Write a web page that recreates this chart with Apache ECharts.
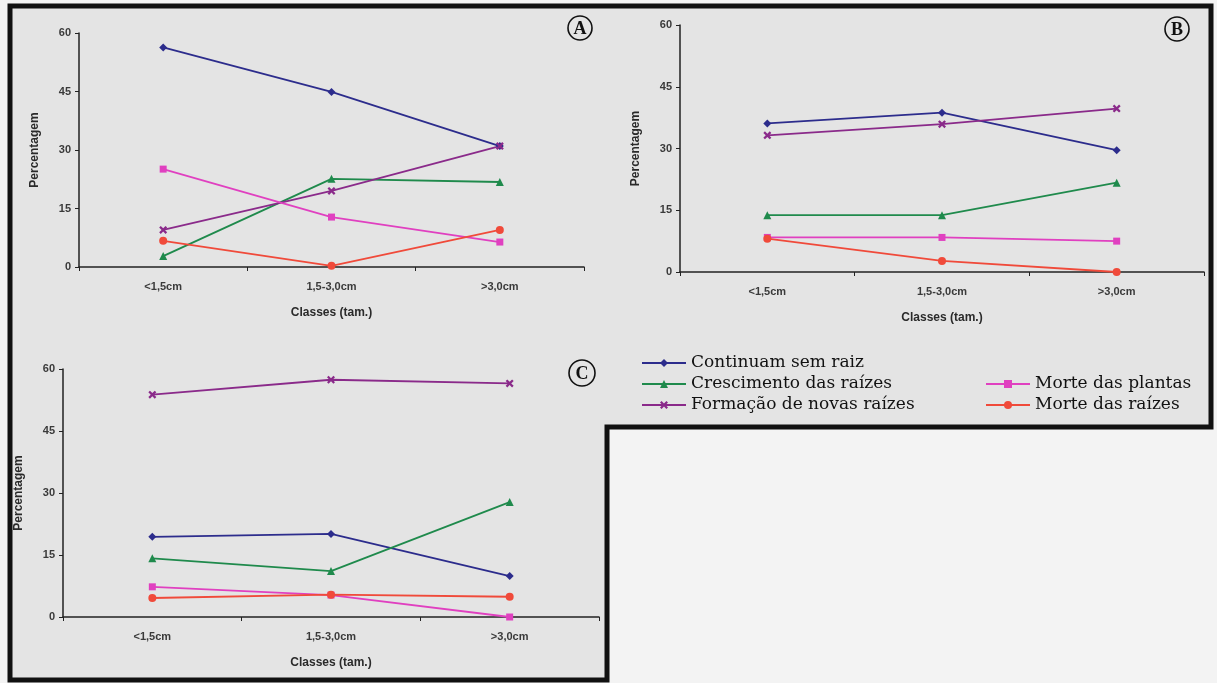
<!DOCTYPE html>
<html>
<head>
<meta charset="utf-8">
<script src="https://cdn.jsdelivr.net/npm/echarts@6/dist/echarts.min.js"></script>
<style>
  html, body { margin: 0; padding: 0; background: #f3f3f3; }
  #chart { width: 1217px; height: 683px; }
</style>
</head>
<body>
<div id="chart"></div>
<script>
// Size classes on the x axis
const categories = ['<1,5cm', '1,5-3,0cm', '>3,0cm'];
const yTicks = { min: 0, max: 60, interval: 15 };

// Response categories (legend order)
const seriesNames = [
  'Continuam sem raiz',
  'Crescimento das raízes',
  'Formação de novas raízes',
  'Morte das plantas',
  'Morte das raízes'
];

// Panel A (%)
const aContinuam     = [56.3, 44.9, 31.0];
const aCrescimento   = [2.8, 22.6, 21.8];
const aFormacao      = [9.5, 19.5, 31.0];
const aMortePlantas  = [25.1, 12.8, 6.4];
const aMorteRaizes   = [6.7, 0.3, 9.5];

// Panel B (%)
const bContinuam     = [36.1, 38.7, 29.6];
const bCrescimento   = [13.8, 13.8, 21.7];
const bFormacao      = [33.2, 35.9, 39.7];
const bMortePlantas  = [8.4, 8.4, 7.5];
const bMorteRaizes   = [8.1, 2.7, 0];

// Panel C (%)
const cContinuam     = [19.4, 20.1, 9.9];
const cCrescimento   = [14.2, 11.1, 27.8];
const cFormacao      = [53.8, 57.4, 56.5];
const cMortePlantas  = [7.3, 5.3, 0];
const cMorteRaizes   = [4.6, 5.4, 4.9];

const panelData = [
  [aContinuam, aCrescimento, aFormacao, aMortePlantas, aMorteRaizes],
  [bContinuam, bCrescimento, bFormacao, bMortePlantas, bMorteRaizes],
  [cContinuam, cCrescimento, cFormacao, cMortePlantas, cMorteRaizes]
];

const colors = ['#2c2c8c', '#1f8a4c', '#8a2a8a', '#e040c0', '#f04a3a'];
const crossPath = 'path://M0,2L2,0L5,3L8,0L10,2L7,5L10,8L8,10L5,7L2,10L0,8L3,5Z';
const symbols = ['diamond', 'triangle', crossPath, 'rect', 'circle'];
const symbolSizes = [8, 8, 8, 7, 8];

const grids = [
  { left: 79, top: 33, width: 505, height: 234 },
  { left: 680, top: 25, width: 524, height: 247 },
  { left: 63, top: 369, width: 536, height: 248 }
];

const axisColor = '#222';
const tickFont = { fontFamily: 'Liberation Sans', fontSize: 11, fontWeight: 'bold', color: '#3a3a3a' };
const nameFont = { fontFamily: 'Liberation Sans', fontSize: 12, fontWeight: 'bold', color: '#2a2a2a' };

const xAxes = grids.map((g, i) => ({
  type: 'category',
  gridIndex: i,
  data: categories,
  boundaryGap: true,
  name: 'Classes (tam.)',
  nameLocation: 'middle',
  nameGap: 40,
  nameTextStyle: nameFont,
  axisLine: { lineStyle: { color: axisColor, width: 1.5 } },
  axisTick: { show: true, length: 4, lineStyle: { color: axisColor } },
  axisLabel: Object.assign({ margin: 14 }, tickFont),
  splitLine: { show: false }
}));

const yAxes = grids.map((g, i) => ({
  type: 'value',
  gridIndex: i,
  min: yTicks.min,
  max: yTicks.max,
  interval: yTicks.interval,
  name: 'Percentagem',
  nameLocation: 'middle',
  nameGap: 38,
  nameTextStyle: nameFont,
  axisLine: { show: true, lineStyle: { color: axisColor, width: 1.5 } },
  axisTick: { show: true, length: 4, lineStyle: { color: axisColor } },
  axisLabel: Object.assign({ margin: 8 }, tickFont),
  splitLine: { show: false }
}));

const series = [];
panelData.forEach((panel, p) => {
  panel.forEach((values, k) => {
    series.push({
      name: seriesNames[k],
      type: 'line',
      xAxisIndex: p,
      yAxisIndex: p,
      data: values,
      symbol: symbols[k],
      symbolSize: symbolSizes[k],
      lineStyle: { color: colors[k], width: 1.8 },
      itemStyle: { color: colors[k] },
      emphasis: { disabled: true },
      animation: false
    });
  });
});

const legendText = { fontFamily: 'DejaVu Serif', fontSize: 17, color: '#111', lineHeight: 18 };

function circledLetter(letter, cx, cy, r) {
  return {
    type: 'group',
    children: [
      { type: 'circle', shape: { cx: cx, cy: cy, r: r },
        style: { fill: 'transparent', stroke: '#111', lineWidth: 1.6 } },
      { type: 'text', x: cx, y: cy + 1,
        style: { text: letter, font: 'bold 18px "Liberation Serif"', fill: '#111',
                 align: 'center', verticalAlign: 'middle' } }
    ]
  };
}

const option = {
  backgroundColor: '#f3f3f3',
  animation: false,
  grid: grids,
  xAxis: xAxes,
  yAxis: yAxes,
  series: series,
  legend: [
    {
      orient: 'vertical',
      left: 636, top: 349,
      data: seriesNames.slice(0, 3),
      itemWidth: 44, itemHeight: 10, itemGap: 3,
      textStyle: legendText,
      selectedMode: false
    },
    {
      orient: 'vertical',
      left: 980, top: 370,
      data: seriesNames.slice(3),
      itemWidth: 44, itemHeight: 10, itemGap: 3,
      textStyle: legendText,
      selectedMode: false
    }
  ],
  graphic: [
    {
      type: 'polygon',
      z: -10,
      shape: { points: [[10, 6], [1211, 6], [1211, 427], [607, 427], [607, 680], [10, 680]] },
      style: { fill: '#e4e4e4', stroke: '#111', lineWidth: 5 }
    },
    circledLetter('A', 580, 28, 12),
    circledLetter('B', 1177, 29, 12),
    circledLetter('C', 582, 373, 13)
  ]
};

const chart = echarts.init(document.getElementById('chart'), null, { renderer: 'canvas' });
chart.setOption(option);
</script>
</body>
</html>
